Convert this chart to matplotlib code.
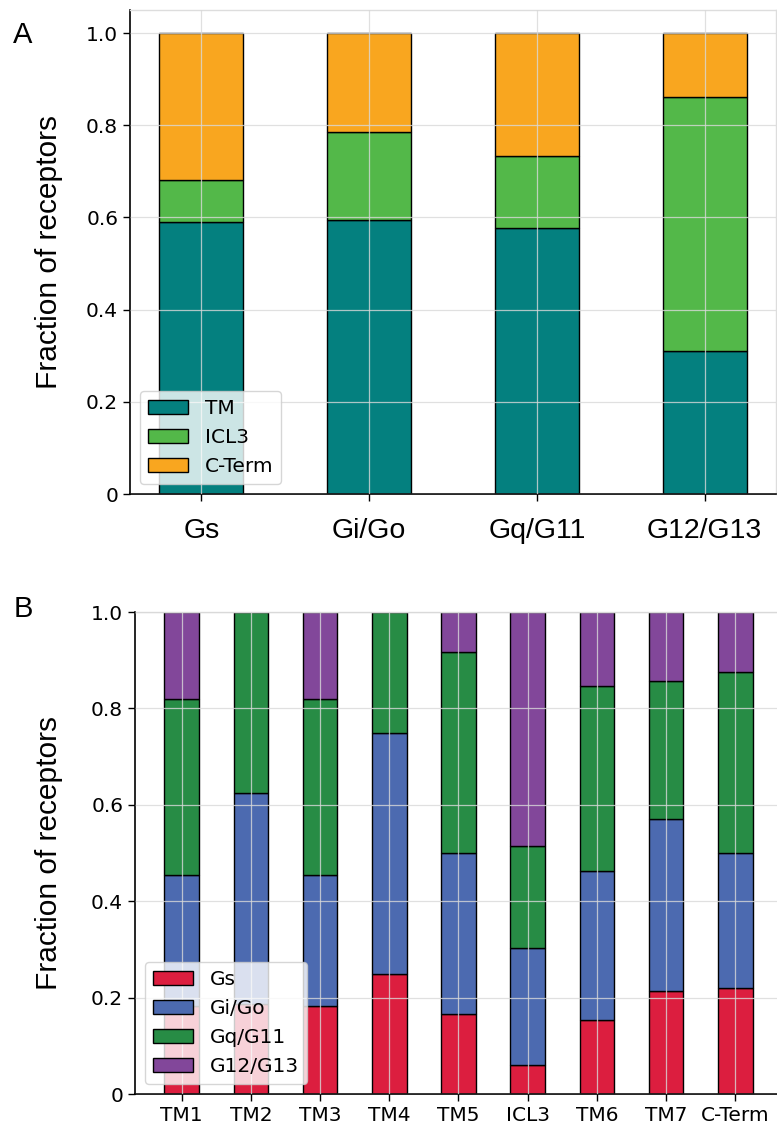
import numpy as np
import matplotlib
matplotlib.use("Agg")
from matplotlib import pyplot as plt

# panel A: receptor region fractions per G-protein family
families = ["Gs", "Gi/Go", "Gq/G11", "G12/G13"]
tm_frac = [0.591, 0.595, 0.577, 0.310]
icl3_frac = [0.091, 0.190, 0.156, 0.552]
cterm_frac = [0.318, 0.215, 0.267, 0.138]

# panel B: G-protein family fractions per receptor region
regions = ["TM1", "TM2", "TM3", "TM4", "TM5", "ICL3", "TM6", "TM7", "C-Term"]
gs_frac = [0.182, 0.1875, 0.182, 0.25, 0.167, 0.061, 0.154, 0.214, 0.219]
gi_frac = [0.273, 0.4375, 0.273, 0.50, 0.333, 0.242, 0.308, 0.357, 0.281]
gq_frac = [0.364, 0.375, 0.364, 0.25, 0.417, 0.212, 0.385, 0.286, 0.375]
g12_frac = [0.182, 0.0, 0.182, 0.0, 0.083, 0.485, 0.154, 0.143, 0.125]

yticks = [0, 0.2, 0.4, 0.6, 0.8, 1.0]
ytick_labels = ["0", "0.2", "0.4", "0.6", "0.8", "1.0"]

W, H = 777, 1124
fig = plt.figure(figsize=(W / 100, H / 100), dpi=100)

def box(l, t, r, b):
    return [l / W, 1 - b / H, (r - l) / W, (b - t) / H]

def style(ax):
    ax.set_axisbelow(False)
    ax.grid(True, color="#d9d9d9", linewidth=0.9, alpha=0.8)
    for s in ["top", "right"]:
        ax.spines[s].set_color("#dddddd")
        ax.spines[s].set_linewidth(1.0)
    for s in ["left", "bottom"]:
        ax.spines[s].set_color("black")
        ax.spines[s].set_linewidth(1.2)
    ax.tick_params(length=5, width=1, labelsize=14.5)
    ax.set_yticks(yticks)
    ax.set_yticklabels(ytick_labels)
    ax.set_ylabel("Fraction of receptors", fontsize=21.5, family="Liberation Sans")

# ---- A
axA = fig.add_axes(box(130, 10, 776, 494))
x = np.arange(len(families))
cols_a = ["#04807f", "#53b849", "#f9a61f"]
bottom = np.zeros(len(families))
for vals, lab, c in zip([tm_frac, icl3_frac, cterm_frac], ["TM", "ICL3", "C-Term"], cols_a):
    axA.bar(x, vals, 0.5, bottom=bottom, color=c, edgecolor="black", linewidth=1, label=lab)
    bottom += np.array(vals)
axA.set_ylim(0, 1.05)
style(axA)
axA.set_xticks(x)
axA.set_xticklabels(families, fontsize=20.5, family="Liberation Sans")
axA.tick_params(axis="x", pad=12.5)
axA.legend(loc="lower left", fontsize=14.5, handlelength=2.0, edgecolor="#cccccc")
axA.yaxis.set_label_coords(-0.104, 0.5)
fig.text(23 / W, 1 - 35 / H, "A", fontsize=21, family="Liberation Sans", ha="center", va="center")

# ---- B
axB = fig.add_axes(box(135, 612, 782, 1094))
xb = np.arange(len(regions))
cols_b = ["#dc1e3f", "#4c6ab0", "#278c45", "#82479a"]
bottom = np.zeros(len(regions))
for vals, lab, c in zip([gs_frac, gi_frac, gq_frac, g12_frac], ["Gs", "Gi/Go", "Gq/G11", "G12/G13"], cols_b):
    axB.bar(xb, vals, 0.5, bottom=bottom, color=c, edgecolor="black", linewidth=1, label=lab)
    bottom += np.array(vals)
axB.set_ylim(0, 1.0)
style(axB)
axB.set_xticks(xb)
axB.set_xticklabels(regions, fontsize=14.5)
axB.legend(loc="lower left", fontsize=14.5, handlelength=2.0, edgecolor="#cccccc")
axB.yaxis.set_label_coords(-0.111, 0.5)
fig.text(23 / W, 1 - 609 / H, "B", fontsize=21, family="Liberation Sans", ha="center", va="center")

fig.savefig("out.png", dpi=100)
